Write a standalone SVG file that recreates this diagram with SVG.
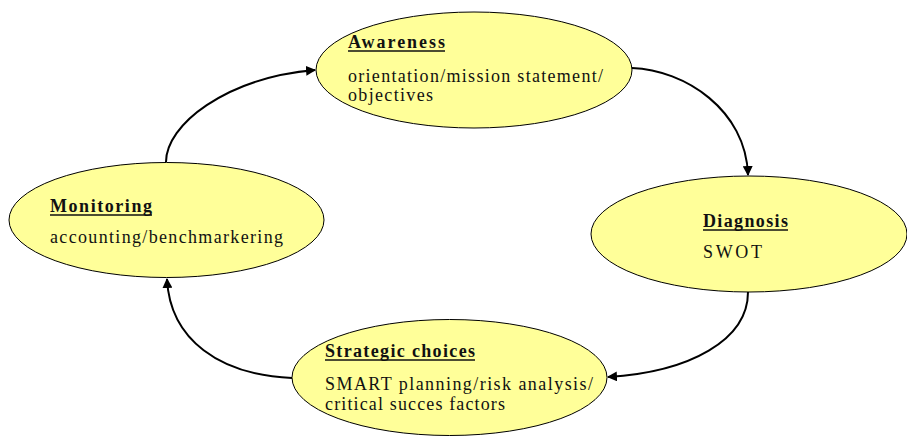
<svg xmlns="http://www.w3.org/2000/svg" width="907" height="439" viewBox="0 0 907 439">
  <style>
    .node { fill: #ffff99; stroke: #000; stroke-width: 1; }
    .title { font-family: "Liberation Serif", "Times New Roman", serif; font-size: 18px; font-weight: bold; fill: #111; }
    .body { font-family: "Liberation Serif", "Times New Roman", serif; font-size: 18px; fill: #111; }
    .uline { stroke: #111; stroke-width: 1.4; }
    .link { fill: none; stroke: #000; stroke-width: 2; }
  </style>
  <defs>
    <marker id="arrow" viewBox="0 0 10 10" refX="9" refY="5" markerWidth="5" markerHeight="5" orient="auto" markerUnits="strokeWidth">
      <path d="M0,0 L10,5 L0,10 z" fill="#000"/>
    </marker>
  </defs>
  <rect width="907" height="439" fill="#fff"/>

  <g id="awareness">
    <ellipse class="node" cx="474" cy="70" rx="158" ry="58"/>
    <text class="title" x="348" y="48" textLength="97" lengthAdjust="spacing">Awareness</text>
    <line class="uline" x1="348" y1="51" x2="445" y2="51"/>
    <text class="body" x="348" y="82" textLength="255" lengthAdjust="spacing">orientation/mission statement/</text>
    <text class="body" x="348" y="101" textLength="85" lengthAdjust="spacing">objectives</text>
  </g>

  <g id="diagnosis">
    <ellipse class="node" cx="749" cy="234" rx="158" ry="58"/>
    <text class="title" x="703" y="227" textLength="85" lengthAdjust="spacing">Diagnosis</text>
    <line class="uline" x1="703" y1="230" x2="788" y2="230"/>
    <text class="body" x="703" y="258" textLength="59" lengthAdjust="spacing">SWOT</text>
  </g>

  <g id="strategic-choices">
    <ellipse class="node" cx="449.5" cy="377.5" rx="157.5" ry="58"/>
    <text class="title" x="325" y="357" textLength="150" lengthAdjust="spacing">Strategic choices</text>
    <line class="uline" x1="325" y1="360" x2="475" y2="360"/>
    <text class="body" x="325" y="390" textLength="268" lengthAdjust="spacing">SMART planning/risk analysis/</text>
    <text class="body" x="325" y="410" textLength="180" lengthAdjust="spacing">critical succes factors</text>
  </g>

  <g id="monitoring">
    <ellipse class="node" cx="166.5" cy="220" rx="157.5" ry="57.5"/>
    <text class="title" x="50" y="212" textLength="102" lengthAdjust="spacing">Monitoring</text>
    <line class="uline" x1="50" y1="215" x2="152" y2="215"/>
    <text class="body" x="50" y="243" textLength="233" lengthAdjust="spacing">accounting/benchmarkering</text>
  </g>

  <g id="connectors">
    <path class="link" marker-end="url(#arrow)" d="M166,162 C166,125 225,78 315,70"/>
    <path class="link" marker-end="url(#arrow)" d="M632,68 C685,70 746,110 748,175"/>
    <path class="link" marker-end="url(#arrow)" d="M748,292 C748,340 690,372 608,377"/>
    <path class="link" marker-end="url(#arrow)" d="M292,378 C220,375 170,340 167,279"/>
  </g>
</svg>
